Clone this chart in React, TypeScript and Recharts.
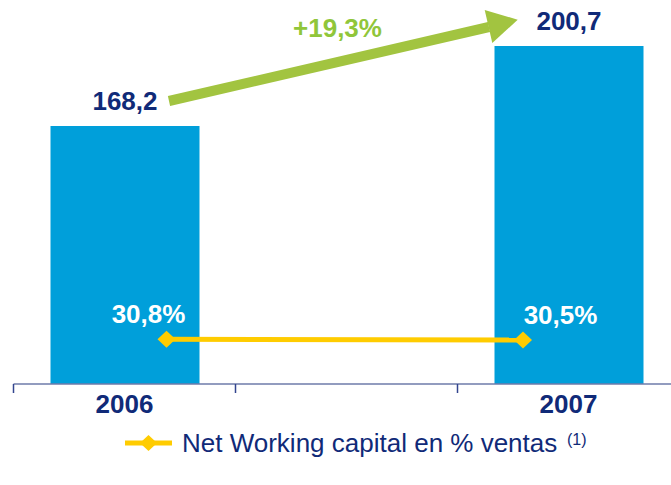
import React from 'react';
import {
  ComposedChart,
  Bar,
  Line,
  XAxis,
  YAxis,
  LabelList,
  Legend,
  Customized,
} from 'recharts';

const years = ['2006', '', '2007'];
const capitalValues = [168.2, null, 200.7];
const nwcPercent = [30.8, null, 30.5];
const growthLabel = '+19,3%';
const legendLabel = 'Net Working capital en % ventas';
const legendNote = '(1)';

const data = years.map((year, i) => ({
  year,
  capital: capitalValues[i],
  pct: nwcPercent[i],
}));

const FONT = '"Liberation Sans", Arial, sans-serif';
const NAVY = '#102A78';
const BLUE = '#009FDA';
const YELLOW = '#FFCC00';
const GREEN_ARROW = '#A2C440';
const GREEN_TEXT = '#90C63A';

const fmt = (v: number) => v.toFixed(1).replace('.', ',');

const CategoryTick = (props: any) => {
  const { x, y, payload } = props;
  const half = payload && payload.offset ? payload.offset : 111;
  return (
    <g>
      <line x1={x - half} y1={y} x2={x - half} y2={y + 9} stroke="#33458F" strokeWidth={1.5} />
      {payload.value ? (
        <text
          x={x}
          y={y + 29}
          textAnchor="middle"
          fontFamily={FONT}
          fontWeight="bold"
          fontSize={26}
          fill={NAVY}
        >
          {payload.value}
        </text>
      ) : null}
    </g>
  );
};

const Diamond = (props: any) => {
  const { cx, cy, index } = props;
  if (cx == null || cy == null) return <g key={`d${index}`} />;
  return (
    <polygon
      key={`d${index}`}
      points={`${cx - 9},${cy} ${cx},${cy - 8.5} ${cx + 9},${cy} ${cx},${cy + 8.5}`}
      fill={YELLOW}
    />
  );
};

const PctLabel = (props: any) => {
  const { x, y, value, index } = props;
  if (value == null) return null;
  const dx = index === 0 ? -18 : 37.5;
  return (
    <text
      x={x + dx}
      y={y - 16}
      textAnchor="middle"
      fontFamily={FONT}
      fontWeight="bold"
      fontSize={26}
      fill="#FFFFFF"
    >
      {fmt(value) + '%'}
    </text>
  );
};

const ArrowAnnotation = () => (
  <g>
    <polygon
      points="167.9,96.1 170.1,105.9 490.1,31.9 487.9,22.1"
      fill={GREEN_ARROW}
    />
    <polygon points="484.7,9.9 492.3,43.1 517.7,19.7" fill={GREEN_ARROW} />
    <text
      x={337.5}
      y={37}
      textAnchor="middle"
      fontFamily={FONT}
      fontWeight="bold"
      fontSize={26}
      fill={GREEN_TEXT}
    >
      {growthLabel}
    </text>
  </g>
);

const LegendContent = () => (
  <div style={{ height: 30, width: 690, position: 'relative' }}>
    <svg width={690} height={30} style={{ display: 'block' }}>
      <line x1={125} y1={15} x2={172} y2={15} stroke={YELLOW} strokeWidth={5} />
      <polygon points="140,15 148.5,7 157,15 148.5,23" fill={YELLOW} />
      <text x={182} y={24} fontFamily={FONT} fontSize={26} fill={NAVY}>
        {legendLabel}
      </text>
      <text x={567} y={17} fontFamily={FONT} fontSize={16} fill={NAVY}>
        {legendNote}
      </text>
    </svg>
  </div>
);

export default function App() {
  return (
    <div
      style={{
        position: 'fixed',
        left: 0,
        top: 0,
        width: 671,
        height: 485,
        overflow: 'hidden',
        background: '#FFFFFF',
      }}
    >
      <ComposedChart
        width={690}
        height={485}
        data={data}
        margin={{ top: 0, right: 10.5, bottom: 27, left: 13.5 }}
      >
        <XAxis
          xAxisId="cat"
          dataKey="year"
          type="category"
          height={44}
          tickSize={0}
          tickMargin={0}
          tickLine={false}
          axisLine={{ stroke: '#6E7BAA', strokeWidth: 1.5 }}
          tick={<CategoryTick />}
          interval={0}
        />
        <XAxis
          xAxisId="pt"
          dataKey="year"
          type="category"
          scale="point"
          hide
          padding={{ left: 153, right: 156.5 }}
        />
        <YAxis yAxisId="left" hide type="number" domain={[63.4, 219.4]} allowDataOverflow />
        <YAxis yAxisId="right" hide type="number" domain={[11.6, 176.2]} allowDataOverflow />
        <Legend verticalAlign="bottom" wrapperStyle={{ left: 0, width: 690 }} content={<LegendContent />} />
        <Bar
          xAxisId="cat"
          yAxisId="left"
          dataKey="capital"
          fill={BLUE}
          barSize={149}
          isAnimationActive={false}
        >
          <LabelList
            dataKey="capital"
            position="top"
            offset={16}
            formatter={(v: any) => (v == null ? '' : fmt(Number(v)))}
            style={{ fontFamily: FONT, fontWeight: 'bold', fontSize: 26, fill: NAVY }}
          />
        </Bar>
        <Line
          xAxisId="pt"
          yAxisId="right"
          dataKey="pct"
          stroke={YELLOW}
          strokeWidth={5}
          connectNulls
          dot={Diamond}
          activeDot={false}
          isAnimationActive={false}
        >
          <LabelList dataKey="pct" content={<PctLabel />} />
        </Line>
        <Customized component={ArrowAnnotation} />
      </ComposedChart>
    </div>
  );
}
